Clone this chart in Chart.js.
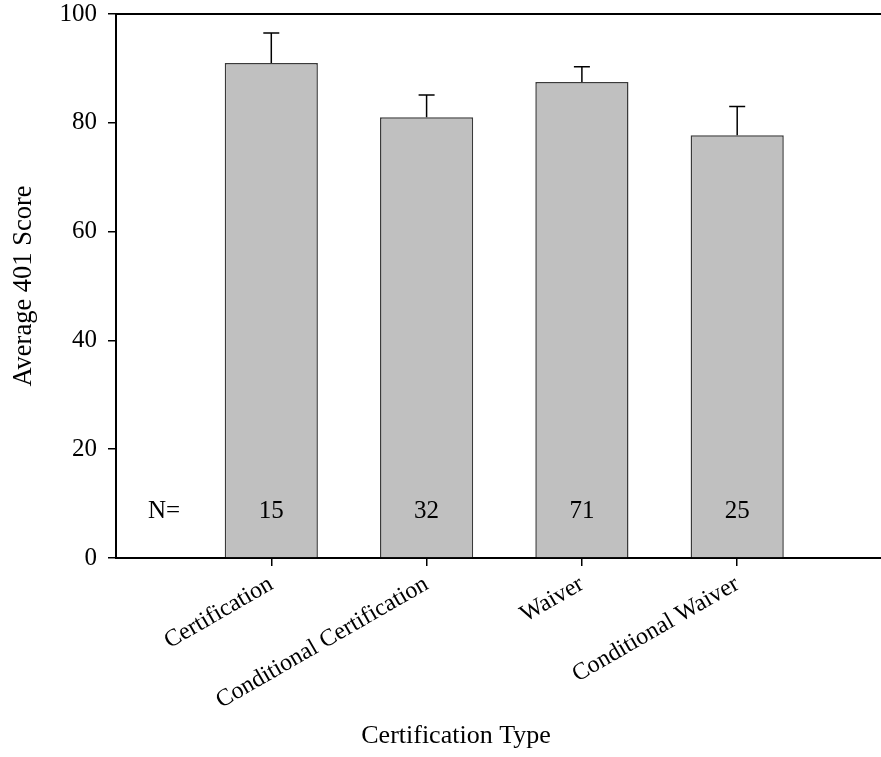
<!DOCTYPE html>
<html>
<head>
<meta charset="utf-8">
<script src="https://cdn.jsdelivr.net/npm/chart.js@4"></script>
<style>
  html, body { margin: 0; padding: 0; background: #fff; overflow: hidden; }
  #wrap { width: 881px; height: 757px; }
</style>
</head>
<body>
<div id="wrap"><canvas id="chart" width="881" height="757"></canvas></div>
<script>
// data
const categories = ['Certification', 'Conditional Certification', 'Waiver', 'Conditional Waiver'];
const positions = [1, 2, 3, 4];
const scores = [91.0, 81.0, 87.5, 77.7];
const errors = [5.5, 4.1, 2.8, 5.3];
const counts = [15, 32, 71, 25];
const yTicks = [0, 20, 40, 60, 80, 100];

const SERIF = '"Times New Roman", "Liberation Serif", serif';

// error bars, top frame line, N= row and x title
const extras = {
  id: 'extras',
  afterDatasetsDraw(chart) {
    const { ctx, chartArea } = chart;
    const xs = chart.scales.x;
    const ys = chart.scales.y;
    const meta = chart.getDatasetMeta(0);

    ctx.save();
    ctx.strokeStyle = '#000';
    ctx.lineWidth = 1.5;
    meta.data.forEach((bar, i) => {
      const yTop = ys.getPixelForValue(scores[i] + errors[i]);
      ctx.beginPath();
      ctx.moveTo(bar.x, bar.y);
      ctx.lineTo(bar.x, yTop);
      ctx.moveTo(bar.x - 8, yTop);
      ctx.lineTo(bar.x + 8, yTop);
      ctx.stroke();
    });

    // top frame line
    ctx.lineWidth = 2;
    ctx.beginPath();
    ctx.moveTo(chartArea.left - 1, chartArea.top);
    ctx.lineTo(chartArea.right, chartArea.top);
    ctx.stroke();

    // N= row
    ctx.fillStyle = '#000';
    ctx.font = '25px ' + SERIF;
    ctx.textAlign = 'center';
    ctx.textBaseline = 'middle';
    const yN = ys.getPixelForValue(8.6);
    ctx.fillText('N=', xs.getPixelForValue(0.31), yN);
    counts.forEach((n, i) => ctx.fillText(String(n), xs.getPixelForValue(positions[i]), yN));

    // x axis title
    ctx.font = '26px ' + SERIF;
    ctx.textBaseline = 'alphabetic';
    ctx.fillText('Certification Type', chartArea.left + 340, chartArea.bottom + 185);
    ctx.restore();
  }
};

new Chart(document.getElementById('chart'), {
  type: 'bar',
  data: {
    datasets: [{
      data: positions.map((p, i) => ({ x: p, y: scores[i] })),
      backgroundColor: '#c0c0c0',
      borderColor: '#3a3a3a',
      borderWidth: 1.5,
      barPercentage: 0.6,
      categoryPercentage: 1
    }]
  },
  options: {
    responsive: false,
    animation: false,
    layout: { padding: { top: 0, right: 0, left: 0, bottom: 0 } },
    plugins: { legend: { display: false }, tooltip: { enabled: false } },
    scales: {
      x: {
        type: 'linear',
        min: 0,
        max: 4.926,
        offset: false,
        afterBuildTicks: s => { s.ticks = positions.map(v => ({ value: v })); },
        afterFit: s => { s.height = 199; },
        ticks: {
          autoSkip: false,
          minRotation: 30,
          maxRotation: 30,
          padding: 4,
          color: '#000',
          font: { family: SERIF, size: 24 },
          callback: v => categories[positions.indexOf(v)] || ''
        },
        grid: { offset: false, drawOnChartArea: false, drawTicks: true, tickLength: 8, color: '#000', lineWidth: 1.5 },
        border: { display: true, color: '#000', width: 2 }
      },
      y: {
        min: 0,
        max: 100,
        afterBuildTicks: s => { s.ticks = yTicks.map(v => ({ value: v })); },
        afterFit: s => { s.width = 116; s.paddingTop = 14; },
        ticks: { padding: 11, color: '#000', font: { family: SERIF, size: 25, lineHeight: 1.12 } },
        grid: { drawOnChartArea: false, drawTicks: true, tickLength: 8, color: '#000', lineWidth: 1.5 },
        border: { display: true, color: '#000', width: 2 },
        title: {
          display: true,
          text: 'Average 401 Score',
          color: '#000',
          font: { family: SERIF, size: 26.5 },
          padding: { top: 8, bottom: 0 }
        }
      }
    }
  },
  plugins: [extras]
});
</script>
</body>
</html>
